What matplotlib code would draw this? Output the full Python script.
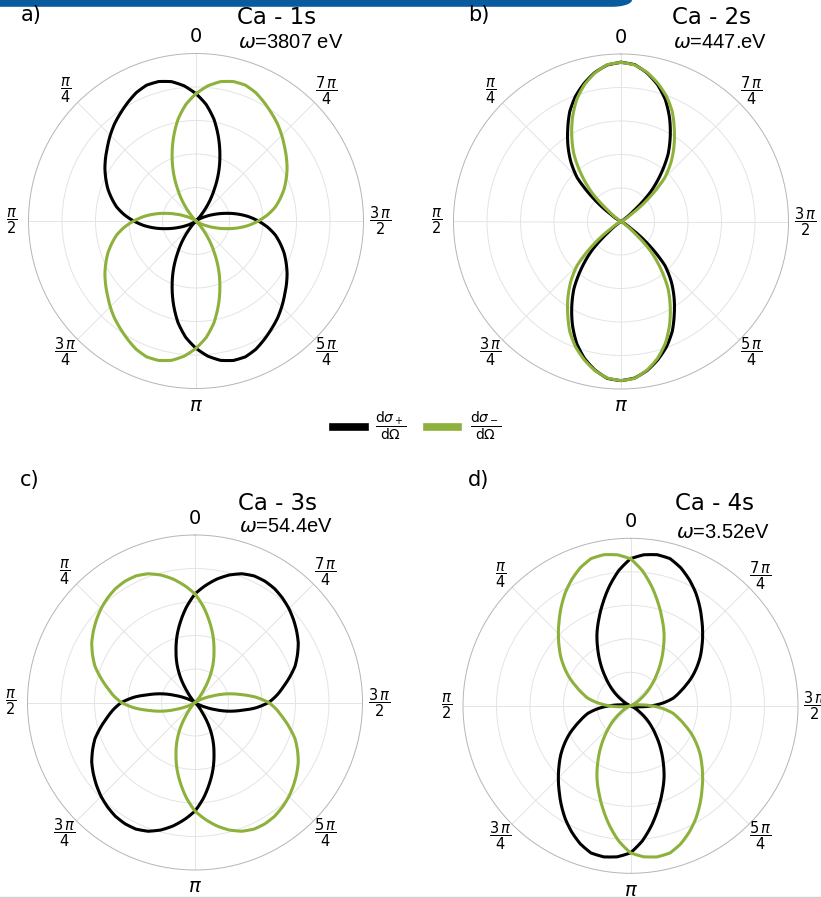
import numpy as np
import matplotlib
matplotlib.use("Agg")
import matplotlib.pyplot as plt
from matplotlib.patches import Polygon
from matplotlib.lines import Line2D

# ===== angles: every 5 deg, counter-clockwise from the top =====
theta_deg = list(range(0, 360, 5))

# ===== dσ+/dΩ and dσ-/dΩ (normalised to the outer ring) =====
a_plus = [0.760, 0.810, 0.845, 0.862, 0.863, 0.845, 0.816, 0.786, 0.757, 0.724, 0.690, 0.659,
          0.628, 0.594, 0.560, 0.521, 0.481, 0.430, 0.372, 0.312, 0.245, 0.176, 0.115, 0.065,
          0.030, 0.010, 0.000, 0.010, 0.050, 0.133, 0.219, 0.319, 0.417, 0.518, 0.617, 0.698,
          0.760, 0.810, 0.845, 0.862, 0.863, 0.845, 0.816, 0.786, 0.757, 0.724, 0.690, 0.659,
          0.628, 0.594, 0.560, 0.521, 0.481, 0.430, 0.372, 0.312, 0.245, 0.176, 0.115, 0.065,
          0.030, 0.010, 0.000, 0.010, 0.050, 0.133, 0.219, 0.319, 0.417, 0.518, 0.617, 0.698]
a_minus = [0.760, 0.698, 0.617, 0.518, 0.417, 0.319, 0.219, 0.133, 0.050, 0.010, 0.000, 0.010,
           0.030, 0.065, 0.115, 0.176, 0.245, 0.312, 0.372, 0.430, 0.481, 0.521, 0.560, 0.594,
           0.628, 0.659, 0.690, 0.724, 0.757, 0.786, 0.816, 0.845, 0.863, 0.862, 0.845, 0.810,
           0.760, 0.698, 0.617, 0.518, 0.417, 0.319, 0.219, 0.133, 0.050, 0.010, 0.000, 0.010,
           0.030, 0.065, 0.115, 0.176, 0.245, 0.312, 0.372, 0.430, 0.481, 0.521, 0.560, 0.594,
           0.628, 0.659, 0.690, 0.724, 0.757, 0.786, 0.816, 0.845, 0.863, 0.862, 0.845, 0.810]

b_plus = [0.950, 0.938, 0.903, 0.853, 0.795, 0.724, 0.636, 0.552, 0.466, 0.370, 0.215, 0.070,
          0.020, 0.005, 0.000, 0.000, 0.000, 0.000, 0.000, 0.000, 0.000, 0.000, 0.000, 0.000,
          0.000, 0.020, 0.100, 0.250, 0.370, 0.490, 0.588, 0.685, 0.774, 0.845, 0.900, 0.940,
          0.950, 0.938, 0.903, 0.853, 0.795, 0.724, 0.636, 0.552, 0.466, 0.370, 0.215, 0.070,
          0.020, 0.005, 0.000, 0.000, 0.000, 0.000, 0.000, 0.000, 0.000, 0.000, 0.000, 0.000,
          0.000, 0.020, 0.100, 0.250, 0.370, 0.490, 0.588, 0.685, 0.774, 0.845, 0.900, 0.940]
b_minus = [0.950, 0.940, 0.900, 0.845, 0.774, 0.685, 0.588, 0.490, 0.370, 0.250, 0.100, 0.020,
           0.000, 0.000, 0.000, 0.000, 0.000, 0.000, 0.000, 0.000, 0.000, 0.000, 0.000, 0.005,
           0.020, 0.070, 0.215, 0.370, 0.466, 0.552, 0.636, 0.724, 0.795, 0.853, 0.903, 0.938,
           0.950, 0.940, 0.900, 0.845, 0.774, 0.685, 0.588, 0.490, 0.370, 0.250, 0.100, 0.020,
           0.000, 0.000, 0.000, 0.000, 0.000, 0.000, 0.000, 0.000, 0.000, 0.000, 0.000, 0.005,
           0.020, 0.070, 0.215, 0.370, 0.466, 0.552, 0.636, 0.724, 0.795, 0.853, 0.903, 0.938]

c_plus = [0.648, 0.574, 0.493, 0.414, 0.332, 0.256, 0.175, 0.090, 0.035, 0.008, 0.000, 0.005,
          0.025, 0.060, 0.120, 0.200, 0.275, 0.365, 0.440, 0.490, 0.535, 0.585, 0.636, 0.675,
          0.712, 0.741, 0.768, 0.793, 0.813, 0.829, 0.836, 0.834, 0.818, 0.788, 0.748, 0.700,
          0.648, 0.574, 0.493, 0.414, 0.332, 0.256, 0.175, 0.090, 0.035, 0.008, 0.000, 0.005,
          0.025, 0.060, 0.120, 0.200, 0.275, 0.365, 0.440, 0.490, 0.535, 0.585, 0.636, 0.675,
          0.712, 0.741, 0.768, 0.793, 0.813, 0.829, 0.836, 0.834, 0.818, 0.788, 0.748, 0.700]
c_minus = [0.648, 0.700, 0.748, 0.788, 0.818, 0.834, 0.836, 0.829, 0.813, 0.793, 0.768, 0.741,
           0.712, 0.675, 0.636, 0.585, 0.535, 0.490, 0.440, 0.365, 0.275, 0.200, 0.120, 0.060,
           0.025, 0.005, 0.000, 0.008, 0.035, 0.090, 0.175, 0.256, 0.332, 0.414, 0.493, 0.574,
           0.648, 0.700, 0.748, 0.788, 0.818, 0.834, 0.836, 0.829, 0.813, 0.793, 0.768, 0.741,
           0.712, 0.675, 0.636, 0.585, 0.535, 0.490, 0.440, 0.365, 0.275, 0.200, 0.120, 0.060,
           0.025, 0.005, 0.000, 0.008, 0.035, 0.090, 0.175, 0.256, 0.332, 0.414, 0.493, 0.574]

d_plus = [0.878, 0.810, 0.725, 0.636, 0.552, 0.474, 0.391, 0.315, 0.243, 0.181, 0.127, 0.075,
          0.040, 0.015, 0.003, 0.008, 0.030, 0.065, 0.126, 0.196, 0.258, 0.301, 0.349, 0.404,
          0.456, 0.508, 0.557, 0.609, 0.663, 0.721, 0.779, 0.831, 0.877, 0.910, 0.916, 0.905,
          0.878, 0.810, 0.725, 0.636, 0.552, 0.474, 0.391, 0.315, 0.243, 0.181, 0.127, 0.075,
          0.040, 0.015, 0.003, 0.008, 0.030, 0.065, 0.126, 0.196, 0.258, 0.301, 0.349, 0.404,
          0.456, 0.508, 0.557, 0.609, 0.663, 0.721, 0.779, 0.831, 0.877, 0.910, 0.916, 0.905]
d_minus = [0.878, 0.905, 0.916, 0.910, 0.877, 0.831, 0.779, 0.721, 0.663, 0.609, 0.557, 0.508,
           0.456, 0.404, 0.349, 0.301, 0.258, 0.196, 0.126, 0.065, 0.030, 0.008, 0.003, 0.015,
           0.040, 0.075, 0.127, 0.181, 0.243, 0.315, 0.391, 0.474, 0.552, 0.636, 0.725, 0.810,
           0.878, 0.905, 0.916, 0.910, 0.877, 0.831, 0.779, 0.721, 0.663, 0.609, 0.557, 0.508,
           0.456, 0.404, 0.349, 0.301, 0.258, 0.196, 0.126, 0.065, 0.030, 0.008, 0.003, 0.015,
           0.040, 0.075, 0.127, 0.181, 0.243, 0.315, 0.391, 0.474, 0.552, 0.636, 0.725, 0.810]

letters = ["a)", "b)", "c)", "d)"]
titles = ["Ca - 1s", "Ca - 2s", "Ca - 3s", "Ca - 4s"]
energies = [r"$\omega$=3807 eV", r"$\omega$=447.eV", r"$\omega$=54.4eV", r"$\omega$=3.52eV"]
tick_labels = ["0", r"$\dfrac{\pi}{4}$", r"$\dfrac{\pi}{2}$", r"$\dfrac{3\,\pi}{4}$", r"$\pi$",
               r"$\dfrac{5\,\pi}{4}$", r"$\dfrac{3\,\pi}{2}$", r"$\dfrac{7\,\pi}{4}$"]

BLACK = "#000000"
GREEN = "#8db13b"

W, H = 821, 898
R = 167.5

fig = plt.figure(figsize=(W / 100, H / 100), dpi=100)
fig.patch.set_facecolor("white")


def fx(x):
    return x / W


def fy(y):
    return 1 - y / H


# ===== panels =====
# centre (px), letter pos, title centre, omega left edge
layout = [
    ((196, 221), (31, 15), (277, 17), (238, 43)),
    ((621, 221.5), (479, 15), (711, 17), (673, 43)),
    ((195, 702.5), (30, 480), (277, 503), (239, 527)),
    ((630.5, 705.8), (479, 480), (714, 503), (676, 532)),
]
curves = [(a_plus, a_minus), (b_plus, b_minus), (c_plus, c_minus), (d_plus, d_minus)]

th = np.deg2rad(theta_deg + [360])

for i, (cen, lpos, tpos, opos) in enumerate(layout):
    cx, cy = cen
    ax = fig.add_axes([fx(cx - R), fy(cy + R), 2 * R / W, 2 * R / H], projection="polar")
    ax.set_theta_zero_location("N")
    ax.set_theta_direction(1)
    ax.set_ylim(0, 1.0)
    ax.set_xticks(np.deg2rad(np.arange(0, 360, 45)))
    ax.set_xticklabels([])
    ax.set_yticks([0.2, 0.4, 0.6, 0.8])
    ax.set_yticklabels([])
    ax.tick_params(length=0)
    ax.grid(color="#e4e4e4", linewidth=0.7)
    ax.spines["polar"].set_color("#b5b5b5")
    ax.spines["polar"].set_linewidth(0.7)

    plus, minus = curves[i]
    for vals, col in ((plus, BLACK), (minus, GREEN)):
        ln, = ax.plot(th, vals + vals[:1], color=col, lw=2.2, solid_joinstyle="round")
        # draw each segment in (theta, r) space rather than as a straight chord
        ln.get_path()._interpolation_steps = 16

    for k, lab in enumerate(tick_labels):
        fs = 14 if k in (0, 4) else 10.5
        ax.text(np.deg2rad(45 * k), 1.1, lab, ha="center", va="center", fontsize=fs,
                clip_on=False)

    fig.text(fx(lpos[0]), fy(lpos[1]), letters[i], ha="center", va="center", fontsize=15)
    fig.text(fx(tpos[0]), fy(tpos[1]), titles[i], ha="center", va="center", fontsize=16.5)
    fig.text(fx(opos[0]), fy(opos[1]), energies[i], ha="left", va="center", fontsize=14.5,
             family="Liberation Sans")

# ===== legend =====
fig.add_artist(Line2D([fx(333), fx(365)], [fy(427), fy(427)], color=BLACK, lw=5.5))
fig.add_artist(Line2D([fx(427), fx(458)], [fy(427), fy(427)], color=GREEN, lw=5.5))
fig.text(fx(391), fy(426), r"$\dfrac{\mathrm{d}\sigma_+}{\mathrm{d}\Omega}$", ha="center",
         va="center", fontsize=10)
fig.text(fx(486), fy(426), r"$\dfrac{\mathrm{d}\sigma_-}{\mathrm{d}\Omega}$", ha="center",
         va="center", fontsize=10)

# ===== blue bar on top, grey rule at the bottom =====
t = np.linspace(0, np.pi / 2, 20)
bar = [(0, 0), (632, 0)] + [(612 + 20 * np.cos(a), 6.8 * np.sin(a)) for a in t] + [(0, 6.8)]
fig.add_artist(Polygon([(fx(x), fy(y)) for x, y in bar], closed=True,
                       facecolor="#0a5aa0", edgecolor="none", transform=fig.transFigure))
fig.add_artist(Line2D([0, 1], [fy(896.5), fy(896.5)], color="#cfcfcf", lw=1.0))

fig.savefig("out.png", dpi=100)
